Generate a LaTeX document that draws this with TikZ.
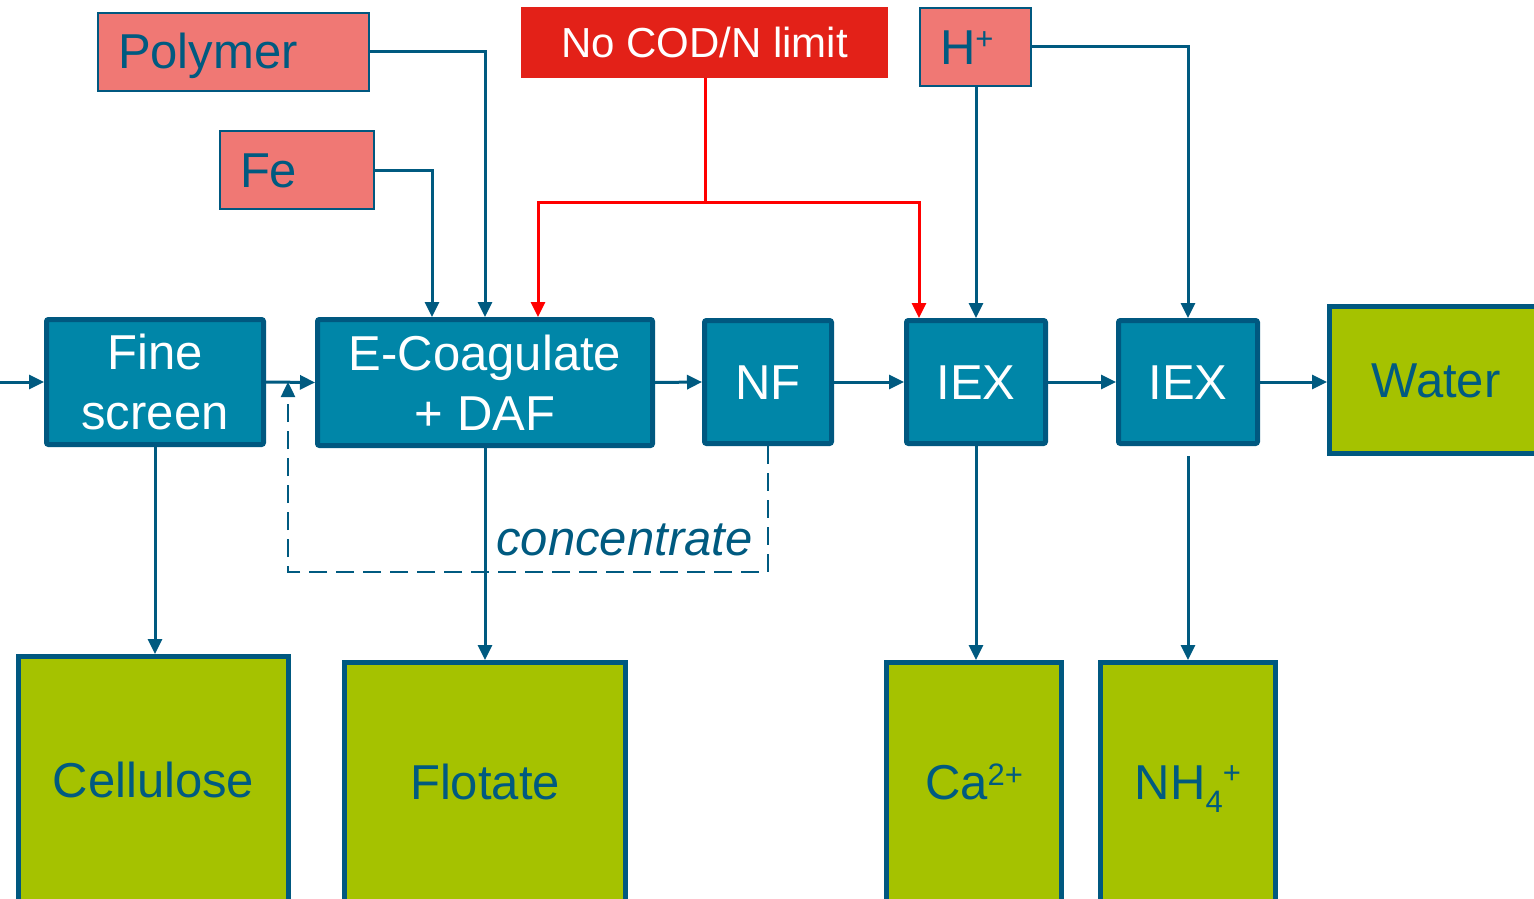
\documentclass[tikz,border=0pt]{standalone}
\usepackage{fontspec}
\setmainfont{Liberation Sans}
\usetikzlibrary{arrows.meta}
\definecolor{boxblue}{RGB}{0,134,168}
\definecolor{edgeblue}{RGB}{0,88,128}
\definecolor{linecol}{RGB}{0,90,128}
\definecolor{prodgreen}{RGB}{165,194,0}
\definecolor{chempink}{RGB}{240,120,116}
\definecolor{codred}{RGB}{227,33,24}
\definecolor{arrred}{RGB}{255,0,0}
\newcommand{\bigfont}{\fontsize{49}{60}\selectfont}
\newcommand{\supfont}{\fontsize{31}{31}\selectfont}
\tikzset{
  unitbox/.style={draw=edgeblue, fill=boxblue, line width=5pt, rounded corners=2pt,
    inner sep=0pt, text=white, font=\bigfont, align=center},
  prodbox/.style={draw=edgeblue, fill=prodgreen, line width=5pt,
    inner sep=0pt, text=linecol, font=\bigfont, align=center},
  chembox/.style={draw=edgeblue, fill=chempink, line width=2pt, minimum height=78pt,
    inner ysep=0pt, inner xsep=20pt, text=linecol, font=\bigfont, align=left,
    text height=34pt, text depth=0pt},
  flow/.style={draw=linecol, line width=3pt, -{Triangle[length=15pt,width=14pt]}},
  redflow/.style={draw=arrred, line width=3pt, -{Triangle[length=15pt,width=14pt]}},
  dashflow/.style={draw=linecol, line width=2.5pt, dash pattern=on 18pt off 9pt,
    -{Triangle[length=15pt,width=14pt]}},
}
\begin{document}
\begin{tikzpicture}[x=1pt,y=-1pt]
\useasboundingbox (0,0) rectangle (1534,899);
% process units
\node[unitbox, minimum width=217pt, minimum height=125pt] (fine) at (155,382) {Fine\\screen};
\node[unitbox, minimum width=335pt, minimum height=126pt] (ecoag) at (485,382.5) {E-Coagulate\\+ DAF};
\node[unitbox, minimum width=127pt, minimum height=123pt, text height=34pt, text depth=0pt] (nf) at (768,382) {NF};
\node[unitbox, minimum width=139pt, minimum height=123pt, text height=34pt, text depth=0pt] (iex1) at (976,382) {IEX};
\node[unitbox, minimum width=139pt, minimum height=123pt, text height=34pt, text depth=0pt] (iex2) at (1188,382) {IEX};
% products
\node[prodbox, minimum width=213pt, minimum height=147pt, text height=34pt, text depth=0pt] (water) at (1436,380) {Water};
\node[prodbox, minimum width=270pt, minimum height=247pt, text height=34pt, text depth=0pt] (cell) at (153.5,780) {Cellulose};
\node[prodbox, minimum width=281pt, minimum height=239pt, text height=34pt, text depth=0pt] (flot) at (485,782) {Flotate};
\node[prodbox, minimum width=175pt, minimum height=239pt, text height=34pt, text depth=0pt] (ca) at (974,782) {Ca\raisebox{14pt}{\supfont 2+}};
\node[prodbox, minimum width=175pt, minimum height=239pt, text height=34pt, text depth=0pt] (nh) at (1188,782) {NH\raisebox{-13pt}{\supfont 4}\raisebox{16pt}{\supfont +}};
% chemicals
\node[chembox, text width=231pt] (polymer) at (233.5,52) {Polymer};
\node[chembox, text width=114pt] (fe) at (297,170) {Fe};
\node[chembox, text width=71pt] (hplus) at (975.5,47) {H\raisebox{14pt}{\supfont +}};
\node[fill=codred, draw=codred, line width=1pt, minimum width=366pt, minimum height=70pt,
  inner sep=0pt, text=white, font=\fontsize{42}{50}\selectfont,
  text height=30pt, text depth=0pt] (cod) at (704.5,42.5) {No COD/N limit};
% label
\node[anchor=base, text=linecol, font=\bigfont\itshape, inner sep=0pt] (conc) at (624.5,555) {concentrate};
% helper coordinates
\coordinate (in) at (0,382);
\coordinate (fej) at (432,0);
\coordinate (rj) at (705,202);
\coordinate (redL) at (538,0);
\coordinate (redR) at (919,0);
\coordinate (dc) at (288,572);
\coordinate (nhj) at (1188,456);
% main line
\draw[flow] (in) -- (fine.west);
\draw[flow] (fine.east) -- (ecoag.west);
\draw[flow] (ecoag.east) -- (nf.west);
\draw[flow] (nf.east) -- (iex1.west);
\draw[flow] (iex1.east) -- (iex2.west);
\draw[flow] (iex2.east) -- (iex2.east -| water.west);
% chemical dosing
\draw[flow] (polymer.east) -| (ecoag.north);
\draw[flow] (fe.east) -| (ecoag.north -| fej);
\draw[flow] (hplus.south -| iex1.north) -- (iex1.north);
\draw[flow] (hplus.east) -| (iex2.north);
% red control
\draw[redflow] (cod.south -| rj) -- (rj) -| (ecoag.north -| redL);
\draw[redflow] (rj) -| (iex1.north -| redR);
% products
\draw[flow] (fine.south) -- (fine.south |- cell.north);
\draw[flow] (ecoag.south) -- (flot.north);
\draw[flow] (iex1.south) -- (iex1.south |- ca.north);
\draw[flow] (nhj) -- (nh.north);
% concentrate recycle
\draw[dashflow] (nf.south) |- (dc) -- (dc |- fine.east);
\end{tikzpicture}
\end{document}
